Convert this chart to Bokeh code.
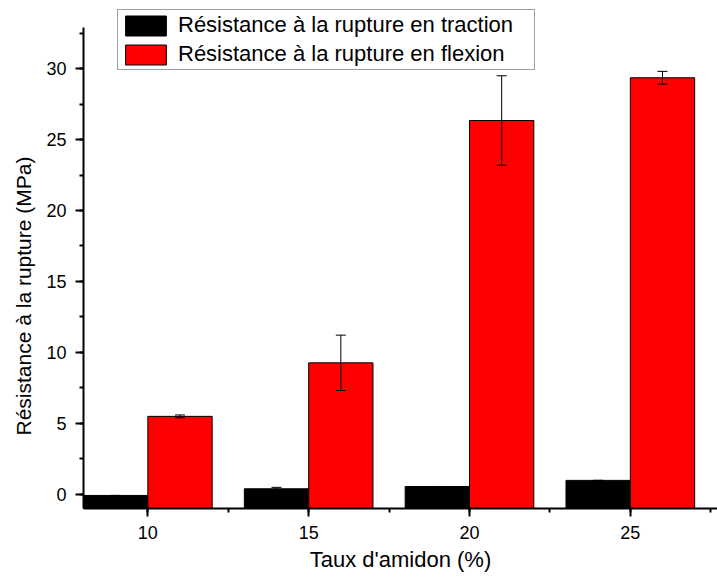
from bokeh.plotting import figure
from bokeh.models import (ColumnDataSource, Range1d, SingleIntervalTicker,
                          Whisker, TeeHead, Legend, LegendItem, Title)
from bokeh.transform import dodge
from bokeh.embed import file_html
from bokeh.resources import INLINE

# ---- data ----
taux = [10, 15, 20, 25]
traction = [-0.07, 0.40, 0.56, 0.99]
traction_err = [0.0, 0.10, 0.0, 0.0]
flexion = [5.50, 9.27, 26.34, 29.35]
flexion_err = [0.10, 1.95, 3.15, 0.45]
tick_labels = ["10", "15", "20", "25"]

FONT = "Liberation Sans"
Y0 = -0.99
YTOP = 32.9

src = ColumnDataSource(dict(
    taux=taux,
    traction=traction,
    flexion=flexion,
    base_t=[t - 1 for t in taux],
    base_f=[t + 1 for t in taux],
    t_up=[v + e for v, e in zip(traction, traction_err)],
    t_lo=[v - e for v, e in zip(traction, traction_err)],
    f_up=[v + e for v, e in zip(flexion, flexion_err)],
    f_lo=[v - e for v, e in zip(flexion, flexion_err)],
))

p = figure(width=717, height=578, output_backend="svg", toolbar_location=None,
           x_range=Range1d(8, 27.71), y_range=Range1d(Y0, 34.44),
           min_border_left=83, min_border_right=0, min_border_top=5,
           min_border_bottom=70)
p.outline_line_color = None
p.xgrid.visible = False
p.ygrid.visible = False
p.background_fill_color = "white"
p.border_fill_color = "white"

r_t = p.vbar(x=dodge("taux", -1, range=p.x_range), top="traction", bottom=Y0, width=2,
             source=src, fill_color="black", line_color="black", line_width=1)
r_f = p.vbar(x=dodge("taux", 1, range=p.x_range), top="flexion", bottom=Y0, width=2,
             source=src, fill_color="#ff0000", line_color="black", line_width=1)

for base, up, lo in (("base_t", "t_up", "t_lo"), ("base_f", "f_up", "f_lo")):
    w = Whisker(base=base, upper=up, lower=lo, source=src, level="overlay",
                line_color="black", line_width=1,
                upper_head=TeeHead(size=10, line_color="black", line_width=1),
                lower_head=TeeHead(size=10, line_color="black", line_width=1))
    p.add_layout(w)

# axes
p.xaxis.ticker = SingleIntervalTicker(interval=5, num_minor_ticks=2)
p.xaxis.major_label_overrides = {t: l for t, l in zip(taux, tick_labels)}
p.yaxis.ticker = SingleIntervalTicker(interval=5, num_minor_ticks=2)
p.yaxis.bounds = (Y0, YTOP)
for ax in (p.xaxis[0], p.yaxis[0]):
    ax.axis_line_width = 2
    ax.axis_line_color = "black"
    ax.major_tick_line_width = 2
    ax.minor_tick_line_width = 2
    ax.major_tick_line_color = "black"
    ax.minor_tick_line_color = "black"
    ax.major_tick_in = 0
    ax.minor_tick_in = 0
    ax.major_tick_out = 8
    ax.minor_tick_out = 4
    ax.major_label_text_font = FONT
    ax.major_label_text_font_size = "18px"
    ax.major_label_text_color = "black"
    ax.axis_label_text_font = FONT
    ax.axis_label_text_font_style = "normal"
    ax.axis_label_text_color = "black"

p.xaxis.axis_label = "Taux d'amidon (%)"
p.xaxis.axis_label_text_font_size = "22px"
p.xaxis.major_label_standoff = 9
p.xaxis.axis_label_standoff = 5
p.yaxis.major_label_standoff = 9

# y title as a side title, so that it can be shifted along the axis
ytitle = Title(text="Résistance à la rupture (MPa)", align="left", offset=73,
               text_font=FONT, text_font_size="21px", text_font_style="normal",
               text_color="black", standoff=17)
p.add_layout(ytitle, "left")

legend = Legend(items=[
    LegendItem(label="Résistance à la rupture en traction", renderers=[r_t]),
    LegendItem(label="Résistance à la rupture en flexion", renderers=[r_f]),
], location=(34, 438))
legend.label_text_font = FONT
legend.label_text_font_size = "22px"
legend.label_text_color = "black"
legend.glyph_width = 51
legend.glyph_height = 25
legend.label_height = 25
legend.label_width = 354
legend.label_standoff = 7
legend.spacing = 3
legend.padding = 2
legend.margin = 0
legend.border_line_color = "#404040"
legend.border_line_width = 1
legend.background_fill_color = "white"
legend.background_fill_alpha = 1
p.add_layout(legend, "center")

open("out.html", "w").write(file_html(p, INLINE))
